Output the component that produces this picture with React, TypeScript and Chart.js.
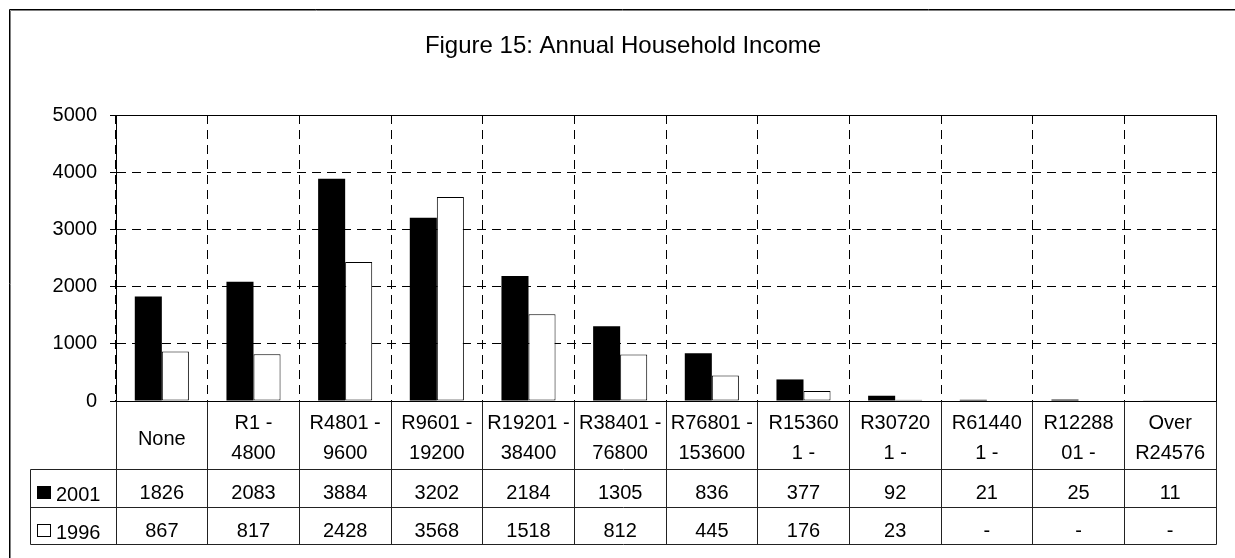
import React, { useEffect, useRef } from "react";
import { Chart, registerables } from "chart.js";

Chart.register(...registerables);

const chartTitle = "Figure 15: Annual Household Income";

const categories = [
  "None",
  "R1 - 4800",
  "R4801 - 9600",
  "R9601 - 19200",
  "R19201 - 38400",
  "R38401 - 76800",
  "R76801 - 153600",
  "R153601 - 307200",
  "R307201 - 614400",
  "R614401 - 1228800",
  "R1228801 - 2457600",
  "Over R2457600",
];

const headerLines: string[][] = [
  ["None"],
  ["R1 -", "4800"],
  ["R4801 -", "9600"],
  ["R9601 -", "19200"],
  ["R19201 -", "38400"],
  ["R38401 -", "76800"],
  ["R76801 -", "153600"],
  ["R15360", "1 -"],
  ["R30720", "1 -"],
  ["R61440", "1 -"],
  ["R12288", "01 -"],
  ["Over", "R24576"],
];

const seriesNames = ["2001", "1996"];
const values2001: (number | null)[] = [1826, 2083, 3884, 3202, 2184, 1305, 836, 377, 92, 21, 25, 11];
const values1996: (number | null)[] = [867, 817, 2428, 3568, 1518, 812, 445, 176, 23, null, null, null];

const yTicks = [0, 1000, 2000, 3000, 4000, 5000];

const FONT = '"Liberation Sans", Arial, sans-serif';

function align(p: number) {
  return Math.round(p - 0.5) + 0.5;
}

const tablePlugin = {
  id: "tablePlugin",
  afterDraw(chart: any) {
    const ctx: CanvasRenderingContext2D = chart.ctx;
    const { left, right, top, bottom } = chart.chartArea;
    const xs = chart.scales.x;
    const n = categories.length;
    const w = (right - left) / n;
    ctx.save();
    ctx.setLineDash([]);

    // outer frame
    ctx.lineWidth = 1;
    ctx.strokeStyle = "#000";
    ctx.beginPath();
    ctx.moveTo(9.5, 558);
    ctx.lineTo(9.5, 9.5);
    ctx.lineTo(1235, 9.5);
    ctx.stroke();
    ctx.strokeStyle = "#808080";
    ctx.beginPath();
    ctx.moveTo(10.5, 558);
    ctx.lineTo(10.5, 10.5);
    ctx.lineTo(1235, 10.5);
    ctx.stroke();

    // title
    ctx.fillStyle = "#000";
    ctx.font = `24px ${FONT}`;
    ctx.textAlign = "center";
    ctx.textBaseline = "alphabetic";
    ctx.fillText(chartTitle, 623, 53);

    // plot frame
    ctx.strokeStyle = "#000";
    const L = align(left), R = align(right), T = align(top), B = align(bottom);
    ctx.strokeRect(L, T, R - L, B - T);

    // table geometry
    const hdrBottom = align(bottom + 68);
    const r1Bottom = align(bottom + 106);
    const r2Bottom = align(bottom + 143);
    const tLeft = 30.5;

    ctx.strokeStyle = "#222";
    ctx.beginPath();
    for (let i = 0; i <= n; i++) {
      const x = align(left + i * w);
      ctx.moveTo(x, B);
      ctx.lineTo(x, r2Bottom);
    }
    ctx.moveTo(tLeft, hdrBottom);
    ctx.lineTo(tLeft, r2Bottom);
    [hdrBottom, r1Bottom, r2Bottom].forEach((y) => {
      ctx.moveTo(tLeft, y);
      ctx.lineTo(R, y);
    });
    ctx.stroke();

    // header texts and values
    ctx.font = `20px ${FONT}`;
    ctx.fillStyle = "#000";
    ctx.textAlign = "center";
    for (let i = 0; i < n; i++) {
      const cx = xs.getPixelForValue(i);
      const lines = headerLines[i];
      if (lines.length === 1) {
        ctx.fillText(lines[0], cx, bottom + 44);
      } else {
        ctx.fillText(lines[0], cx, bottom + 28);
        ctx.fillText(lines[1], cx, bottom + 58);
      }
      const a = values2001[i];
      const b = values1996[i];
      ctx.fillText(a == null ? "-" : String(a), cx, bottom + 98);
      ctx.fillText(b == null ? "-" : String(b), cx, bottom + 136);
    }

    // legend keys
    ctx.fillStyle = "#000";
    ctx.fillRect(37, bottom + 85, 14, 13);
    ctx.fillStyle = "#fff";
    ctx.fillRect(37, bottom + 123, 13, 12);
    ctx.strokeStyle = "#000";
    ctx.strokeRect(37.5, bottom + 123.5, 13, 12);
    ctx.fillStyle = "#000";
    ctx.textAlign = "left";
    ctx.fillText(seriesNames[0], 56, bottom + 100);
    ctx.fillText(seriesNames[1], 56, bottom + 138);

    ctx.restore();
  },
};

export default function App() {
  const ref = useRef<HTMLCanvasElement>(null);
  useEffect(() => {
    if (!ref.current) return;
    const chart = new Chart(ref.current, {
      type: "bar",
      data: {
        labels: categories,
        datasets: [
          {
            label: seriesNames[0],
            data: values2001,
            backgroundColor: "#000",
            borderColor: "#000",
            borderWidth: 0,
            categoryPercentage: 0.59,
            barPercentage: 1,
          },
          {
            label: seriesNames[1],
            data: values1996,
            backgroundColor: "#fff",
            borderColor: "#000",
            borderWidth: 1,
            borderSkipped: false,
            categoryPercentage: 0.59,
            barPercentage: 1,
          },
        ],
      },
      options: {
        responsive: false,
        animation: false,
        devicePixelRatio: 1,
        layout: { padding: { left: 0, top: 115, right: 19, bottom: 157 } },
        plugins: {
          legend: { display: false },
          title: { display: false },
          tooltip: { enabled: false },
        },
        scales: {
          x: {
            ticks: { display: false },
            grid: { offset: true, color: "#000", lineWidth: 1, drawTicks: false },
            border: { display: true, color: "#000", dash: [9, 6] },
            afterFit: (s: any) => {
              s.height = 0;
            },
          },
          y: {
            min: 0,
            max: 5000,
            afterBuildTicks: (s: any) => {
              s.ticks = yTicks.map((v) => ({ value: v }));
            },
            ticks: {
              color: "#000",
              font: { size: 20, family: FONT },
              padding: 13,
              callback: (v: any) => String(v),
            },
            grid: {
              color: "#000",
              lineWidth: 1,
              tickLength: 6,
              tickBorderDash: [],
              drawTicks: true,
            },
            border: { display: true, color: "#000", dash: [9, 6] },
            afterFit: (s: any) => {
              s.width = 116;
            },
          },
        },
      },
      plugins: [tablePlugin],
    } as any);
    return () => chart.destroy();
  }, []);
  return (
    <div style={{ position: "fixed", left: 0, top: 0, width: 1235, height: 558, background: "#fff" }}>
      <canvas ref={ref} width={1235} height={558} style={{ display: "block" }} />
    </div>
  );
}
